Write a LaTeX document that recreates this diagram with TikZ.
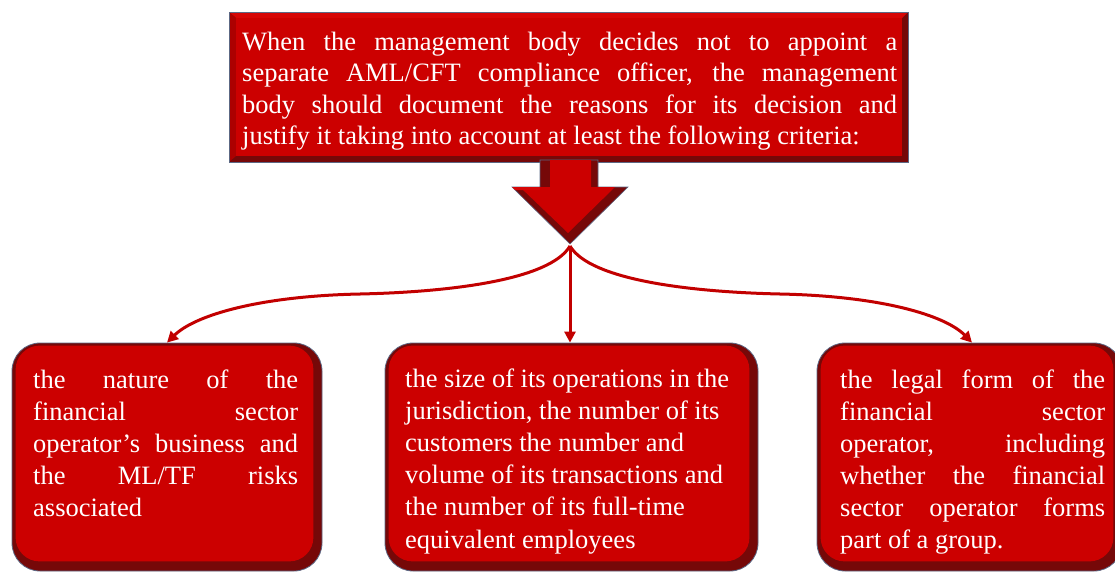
\documentclass[tikz,border=0pt]{standalone}
\usepackage{fontspec}
\setmainfont{Liberation Serif}
\usetikzlibrary{arrows.meta}

\definecolor{facered}{RGB}{204,0,0}
\definecolor{bevdark}{RGB}{118,8,8}
\definecolor{bevmid}{RGB}{172,0,0}
\definecolor{bevlight}{RGB}{214,6,6}
\definecolor{edgegray}{RGB}{92,104,132}
\definecolor{linkred}{RGB}{194,0,0}

% one line of text stretched to the full measure, or left at its natural width
\newlength\linew
\newcommand\jl[1]{\hbox to \linew{#1}}
\newcommand\rl[1]{\hbox{#1}}

\tikzset{
  critbox/.style={rectangle, draw=edgegray, line width=0.8pt, fill=bevdark,
    rounded corners=28pt, inner sep=0pt, minimum height=228pt},
  critface/.style={fill=facered, rounded corners=24pt},
  headbox/.style={rectangle, draw=edgegray, line width=0.8pt, fill=bevdark,
    inner sep=0pt, minimum width=679pt, minimum height=150pt},
  link/.style={draw=linkred, line width=3pt,
    -{Triangle[length=11pt,width=11pt]}},
  bodytext/.style={anchor=base west, inner sep=0pt, text=white,
    font=\fontsize{26.5}{32}\selectfont},
}

\begin{document}
\begin{tikzpicture}[x=1pt,y=-1pt]
\useasboundingbox (0,0) rectangle (1115,573);

% ---- connectors from the arrow tip to the three criteria
\coordinate (tip) at (570,246);

% ---- criteria boxes
\node[critbox, minimum width=310pt] (leftbox)  at (167,457)   {};
\node[critbox, minimum width=373pt] (midbox)   at (571.5,457) {};
\node[critbox, minimum width=305pt] (rightbox) at (969.5,457) {};
\foreach \b in {leftbox,midbox,rightbox}{
  \fill[critface] ([xshift=4pt,yshift=-3pt]\b.north west)
    rectangle ([xshift=-9pt,yshift=10pt]\b.south east);
}

\draw[link] (tip) .. controls (550,280) and (450,292) .. (360,294)
  .. controls (260,296) and (195,315) .. (leftbox.north);
\draw[link] (tip) -- (tip |- midbox.north);
\draw[link] (tip) .. controls (590,280) and (690,292) .. (780,294)
  .. controls (880,296) and (945,315) .. ([xshift=2.5pt]rightbox.north);

% ---- heading box with bevelled edges
\node[headbox] (topbox) at (568.5,87) {};
\fill[bevlight] (229,12) -- (908,12) -- (902,18) -- (236,18) -- cycle;
\fill[bevmid]   (229,12) -- (236,18) -- (236,156) -- (229,162) -- cycle;
\fill[facered]  (236,18) rectangle (902,156);
\draw[edgegray, line width=0.8pt] (229,12) rectangle (908,162);

% ---- block arrow below the heading
\filldraw[fill=bevdark, draw=edgegray, line width=0.6pt]
  (540,160) -- (598,160) -- (598,187) -- (628,187) -- (570,244)
  -- (512,187) -- (540,187) -- cycle;
\fill[facered] (550,160) -- (591,160) -- (591,187) -- (615,187)
  -- (568,233) -- (520,187) -- (550,187) -- cycle;
\fill[bevlight] (512,187) -- (540,187) -- (540,190) -- (515,190) -- cycle;

% ---- texts
\node[bodytext] (headtext) at (242,50) {\vtop{\linew=655pt \baselineskip=31.5pt
  \jl{When the management body decides not to appoint a}
  \jl{separate AML/CFT compliance officer, the management}
  \jl{body should document the reasons for its decision and}
  \rl{justify it taking into account at least the following criteria:}}};

\node[bodytext] (lefttext) at (33,388) {\vtop{\linew=265pt \baselineskip=32pt
  \jl{the nature of the}
  \jl{financial sector}
  \jl{operator’s business and}
  \jl{the ML/TF risks}
  \rl{associated}}};

\node[bodytext] (midtext) at (405,387) {\vtop{\linew=340pt \baselineskip=32.2pt
  \rl{the size of its operations in the}
  \rl{jurisdiction, the number of its}
  \rl{customers the number and}
  \rl{volume of its transactions and}
  \rl{the number of its full-time}
  \rl{equivalent employees}}};

\node[bodytext] (righttext) at (840,388) {\vtop{\linew=265pt \baselineskip=32pt
  \jl{the legal form of the}
  \jl{financial sector}
  \jl{operator, including}
  \jl{whether the financial}
  \jl{sector operator forms}
  \rl{part of a group.}}};
\end{tikzpicture}
\end{document}
